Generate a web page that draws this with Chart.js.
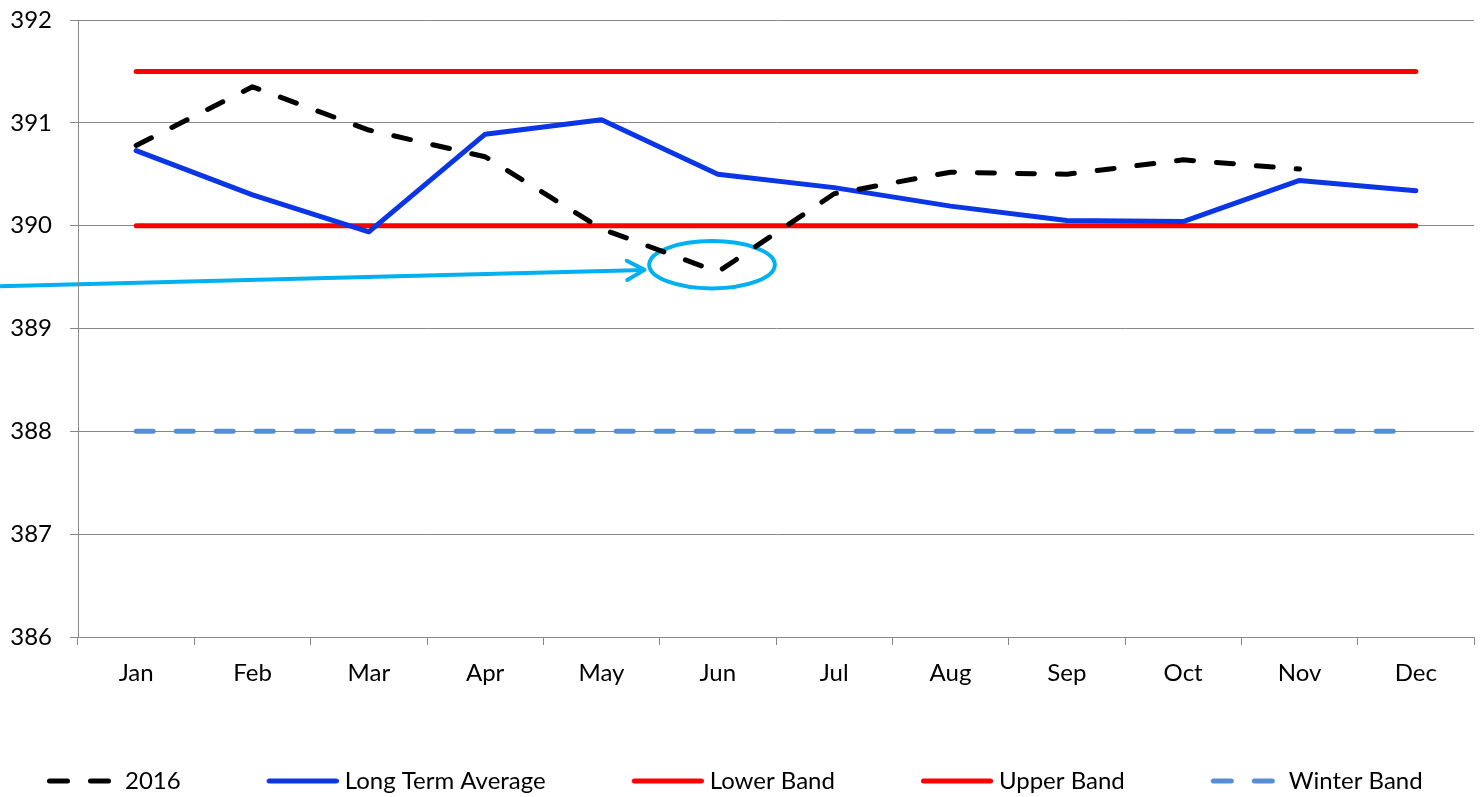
<!DOCTYPE html>
<html>
<head>
<meta charset="utf-8">
<script src="https://cdn.jsdelivr.net/npm/chart.js@4.4.1/dist/chart.umd.min.js"></script>
<style>
html, body { margin: 0; padding: 0; background: #ffffff; }
#wrap { width: 1480px; height: 797px; }
</style>
</head>
<body>
<div id="wrap"><canvas id="c" width="1480" height="797"></canvas></div>
<script>
// ---- data ----
const categories = ['Jan', 'Feb', 'Mar', 'Apr', 'May', 'Jun', 'Jul', 'Aug', 'Sep', 'Oct', 'Nov', 'Dec'];
const values2016 = [390.78, 391.35, 390.93, 390.67, 389.97, 389.55, 390.31, 390.52, 390.50, 390.64, 390.55, null];
const longTermAverage = [390.73, 390.30, 389.94, 390.89, 391.03, 390.50, 390.37, 390.19, 390.05, 390.04, 390.44, 390.34];
const lowerBand = [390, 390, 390, 390, 390, 390, 390, 390, 390, 390, 390, 390];
const upperBand = [391.5, 391.5, 391.5, 391.5, 391.5, 391.5, 391.5, 391.5, 391.5, 391.5, 391.5, 391.5];
const winterBand = [388, 388, 388, 388, 388, 388, 388, 388, 388, 388, 388, 388];
const seriesLabels = ['2016', 'Long Term Average', 'Lower Band', 'Upper Band', 'Winter Band'];
const yMin = 386, yMax = 392, yStep = 1;
// annotation (in data units: category index / value)
const ellipseCenter = { x: 4.95, y: 389.62 };
const ellipseRadius = { x: 0.54, y: 0.23 };
const arrowFrom = { x: -1.17, y: 389.41 };
const arrowTo = { x: 4.37, y: 389.57 };

const C_BLACK = '#000000', C_BLUE = '#0A36E6', C_RED = '#FF0000', C_WINTER = '#558ED5', C_CYAN = '#00B0F0';
const DASH = [17, 23];
const FONT_SIZE = 24;

Chart.defaults.font.family = 'Lato, "Open Sans", sans-serif';
Chart.defaults.font.size = FONT_SIZE;
Chart.defaults.color = '#000000';

// legend sample images (line sits in the right part of a wide legend box)
function legendImg(color, dashed) {
  const cv = document.createElement('canvas');
  cv.width = 160; cv.height = 8;
  const g = cv.getContext('2d');
  g.strokeStyle = color; g.lineWidth = 5; g.lineCap = 'round';
  g.beginPath();
  if (dashed) {
    g.moveTo(90.5, 4); g.lineTo(108.5, 4);
    g.moveTo(131.5, 4); g.lineTo(149.5, 4);
  } else {
    g.moveTo(90.5, 4); g.lineTo(157.5, 4);
  }
  g.stroke();
  return cv;
}
const legendImgs = [
  legendImg(C_BLACK, true),
  legendImg(C_BLUE, false),
  legendImg(C_RED, false),
  legendImg(C_RED, false),
  legendImg(C_WINTER, true)
];

const annotationPlugin = {
  id: 'annot',
  beforeDraw(chart) {
    const xs = chart.scales.x, ys = chart.scales.y, ctx = chart.ctx;
    ctx.save();
    ctx.strokeStyle = C_CYAN;
    ctx.lineWidth = 4;
    ctx.lineCap = 'round';
    ctx.lineJoin = 'round';
    const cx = xs.getPixelForValue(ellipseCenter.x), cy = ys.getPixelForValue(ellipseCenter.y);
    const rx = Math.abs(xs.getPixelForValue(ellipseCenter.x + ellipseRadius.x) - cx);
    const ry = Math.abs(ys.getPixelForValue(ellipseCenter.y + ellipseRadius.y) - cy);
    ctx.beginPath();
    ctx.ellipse(cx, cy, rx, ry, 0, 0, Math.PI * 2);
    ctx.stroke();
    const x1 = xs.getPixelForValue(arrowFrom.x), y1 = ys.getPixelForValue(arrowFrom.y);
    const x2 = xs.getPixelForValue(arrowTo.x), y2 = ys.getPixelForValue(arrowTo.y);
    ctx.lineCap = 'butt';
    ctx.beginPath();
    ctx.moveTo(x1, y1); ctx.lineTo(x2, y2);
    ctx.stroke();
    const ang = Math.atan2(y2 - y1, x2 - x1), hl = 20, ha = 0.5;
    ctx.lineCap = 'round';
    ctx.beginPath();
    ctx.moveTo(x2 - hl * Math.cos(ang - ha), y2 - hl * Math.sin(ang - ha));
    ctx.lineTo(x2, y2);
    ctx.lineTo(x2 - hl * Math.cos(ang + ha), y2 - hl * Math.sin(ang + ha));
    ctx.stroke();
    ctx.restore();
  }
};

const LEGEND_BOX = 148, LEGEND_PAD = 4, LEGEND_LINE_OFFSET = 82;
const legendShiftPlugin = {
  id: 'legendShift',
  afterLayout(chart) {
    const l = chart.legend;
    if (!l) return;
    const dx = (47 - LEGEND_LINE_OFFSET) - (l.left + LEGEND_PAD);
    const dy = 781 - (l.top + LEGEND_PAD + FONT_SIZE / 2);
    l.left += dx;
    l.right = chart.width + 400;
    l.top += dy; l.bottom += dy;
  }
};

function lineDs(label, data, color, dashed) {
  return {
    label, data,
    borderColor: color,
    backgroundColor: color,
    borderWidth: 5,
    borderDash: dashed ? DASH : [],
    borderCapStyle: 'round',
    borderJoinStyle: 'round',
    pointRadius: 0,
    pointHoverRadius: 0,
    tension: 0,
    fill: false,
    spanGaps: false
  };
}

new Chart(document.getElementById('c'), {
  type: 'line',
  data: {
    labels: categories,
    datasets: [
      lineDs(seriesLabels[0], values2016, C_BLACK, true),
      lineDs(seriesLabels[1], longTermAverage, C_BLUE, false),
      lineDs(seriesLabels[2], lowerBand, C_RED, false),
      lineDs(seriesLabels[3], upperBand, C_RED, false),
      lineDs(seriesLabels[4], winterBand, C_WINTER, true)
    ]
  },
  options: {
    responsive: false,
    animation: false,
    devicePixelRatio: 1,
    layout: { padding: { top: 20, right: 6, left: 0, bottom: 0 } },
    scales: {
      x: {
        offset: true,
        grid: { display: true, drawOnChartArea: false, offset: true, tickLength: 8, color: '#888888', lineWidth: 1 },
        border: { display: true, color: '#888888', width: 1 },
        ticks: { padding: 14, maxRotation: 0, font: { size: FONT_SIZE }, color: '#000000' },
        afterFit(s) { s.height = 122; }
      },
      y: {
        min: yMin, max: yMax,
        grid: { color: '#888888', lineWidth: 1, tickLength: 8 },
        border: { display: true, color: '#888888', width: 1 },
        ticks: { stepSize: yStep, padding: 18, font: { size: FONT_SIZE, lineHeight: 0.1 }, color: '#000000' },
        afterFit(s) { s.width = 78; }
      }
    },
    plugins: {
      tooltip: { enabled: false },
      legend: {
        position: 'bottom',
        align: 'start',
        labels: {
          usePointStyle: true,
          pointStyleWidth: LEGEND_BOX,
          padding: LEGEND_PAD,
          font: { size: FONT_SIZE },
          color: '#000000',
          generateLabels(chart) {
            return chart.data.datasets.map((ds, i) => ({
              text: ds.label,
              pointStyle: legendImgs[i],
              fillStyle: 'rgba(0,0,0,0)',
              strokeStyle: 'rgba(0,0,0,0)',
              lineWidth: 0,
              hidden: false,
              datasetIndex: i
            }));
          }
        }
      }
    }
  },
  plugins: [annotationPlugin, legendShiftPlugin]
});
</script>
</body>
</html>
